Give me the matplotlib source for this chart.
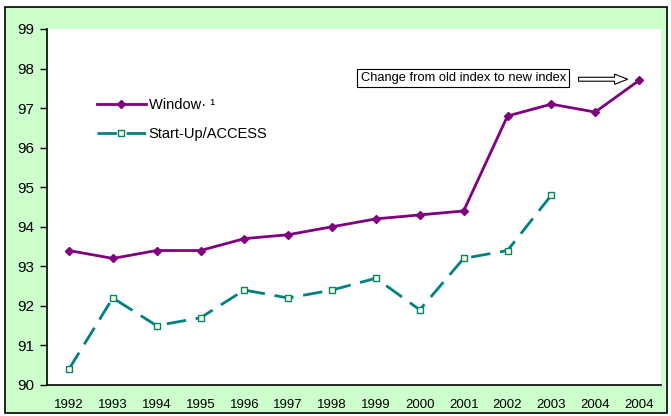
import numpy as np
import matplotlib.pyplot as plt
from matplotlib.patches import Rectangle, FancyArrow

plt.rcParams['font.family'] = ['Liberation Sans', 'DejaVu Sans']

# Dados
anos = ['1992', '1993', '1994', '1995', '1996', '1997', '1998',
        '1999', '2000', '2001', '2002', '2003', '2004', '2004']
window = [93.4, 93.2, 93.4, 93.4, 93.7, 93.8, 94.0,
          94.2, 94.3, 94.4, 96.8, 97.1, 96.9, 97.7]
startup = [90.4, 92.2, 91.5, 91.7, 92.4, 92.2, 92.4,
           92.7, 91.9, 93.2, 93.4, 94.8, np.nan, np.nan]
yticks = np.arange(90, 100, 1)

fig = plt.figure(figsize=(6.71, 4.16), dpi=100, facecolor='white')

# fundo verde com borda preta
fig.patches.append(Rectangle((5 / 671, 3 / 416), 662 / 671, 406 / 416,
                             transform=fig.transFigure, facecolor='#CCFFCC',
                             edgecolor='black', linewidth=1.2, zorder=-10))

ax = fig.add_axes([47 / 671, 31 / 416, 614 / 671, 356 / 416])
ax.set_facecolor('white')

x = np.arange(len(anos))
ax.plot(x, window, color='#800080', linewidth=2, marker='D', markersize=4,
        markerfacecolor='#800080', markeredgecolor='#800080', label='Window· ¹')
ax.plot(x, startup, color='#008080', linewidth=2, linestyle=(0, (7, 3.5)),
        marker='s', markersize=5, markerfacecolor='#FFFFCC',
        markeredgecolor='#008080', markeredgewidth=1, label='Start-Up/ACCESS')

ax.set_xlim(-0.5, len(anos) - 0.5)
ax.set_ylim(90, 99)
ax.set_yticks(yticks)
ax.set_yticklabels([str(v) for v in yticks], fontsize=11)
ax.set_xticks(x)
ax.set_xticklabels(anos, fontsize=9.5)
ax.tick_params(axis='x', length=0, pad=10)
ax.tick_params(axis='y', length=5, width=1, pad=4)

ax.spines['top'].set_visible(False)
ax.spines['right'].set_visible(False)
for s in ('left', 'bottom'):
    ax.spines[s].set_linewidth(1.2)

ax.legend(loc='upper left', bbox_to_anchor=(0.06, 0.842), frameon=False,
          fontsize=10.5, handlelength=3.35, labelspacing=1.0, handletextpad=0.2)

# caixa de anotação e seta
ax.text(6.65, 97.76, 'Change from old index to new index', fontsize=9.3,
        va='center', ha='left',
        bbox=dict(boxstyle='square,pad=0.25', facecolor='white',
                  edgecolor='black', linewidth=0.8))
ax.add_patch(FancyArrow(11.62, 97.73, 1.12, 0, width=0.1, head_width=0.26,
                        head_length=0.3, length_includes_head=True,
                        facecolor='white', edgecolor='black', linewidth=0.8))

fig.savefig('out.png', dpi=100)
